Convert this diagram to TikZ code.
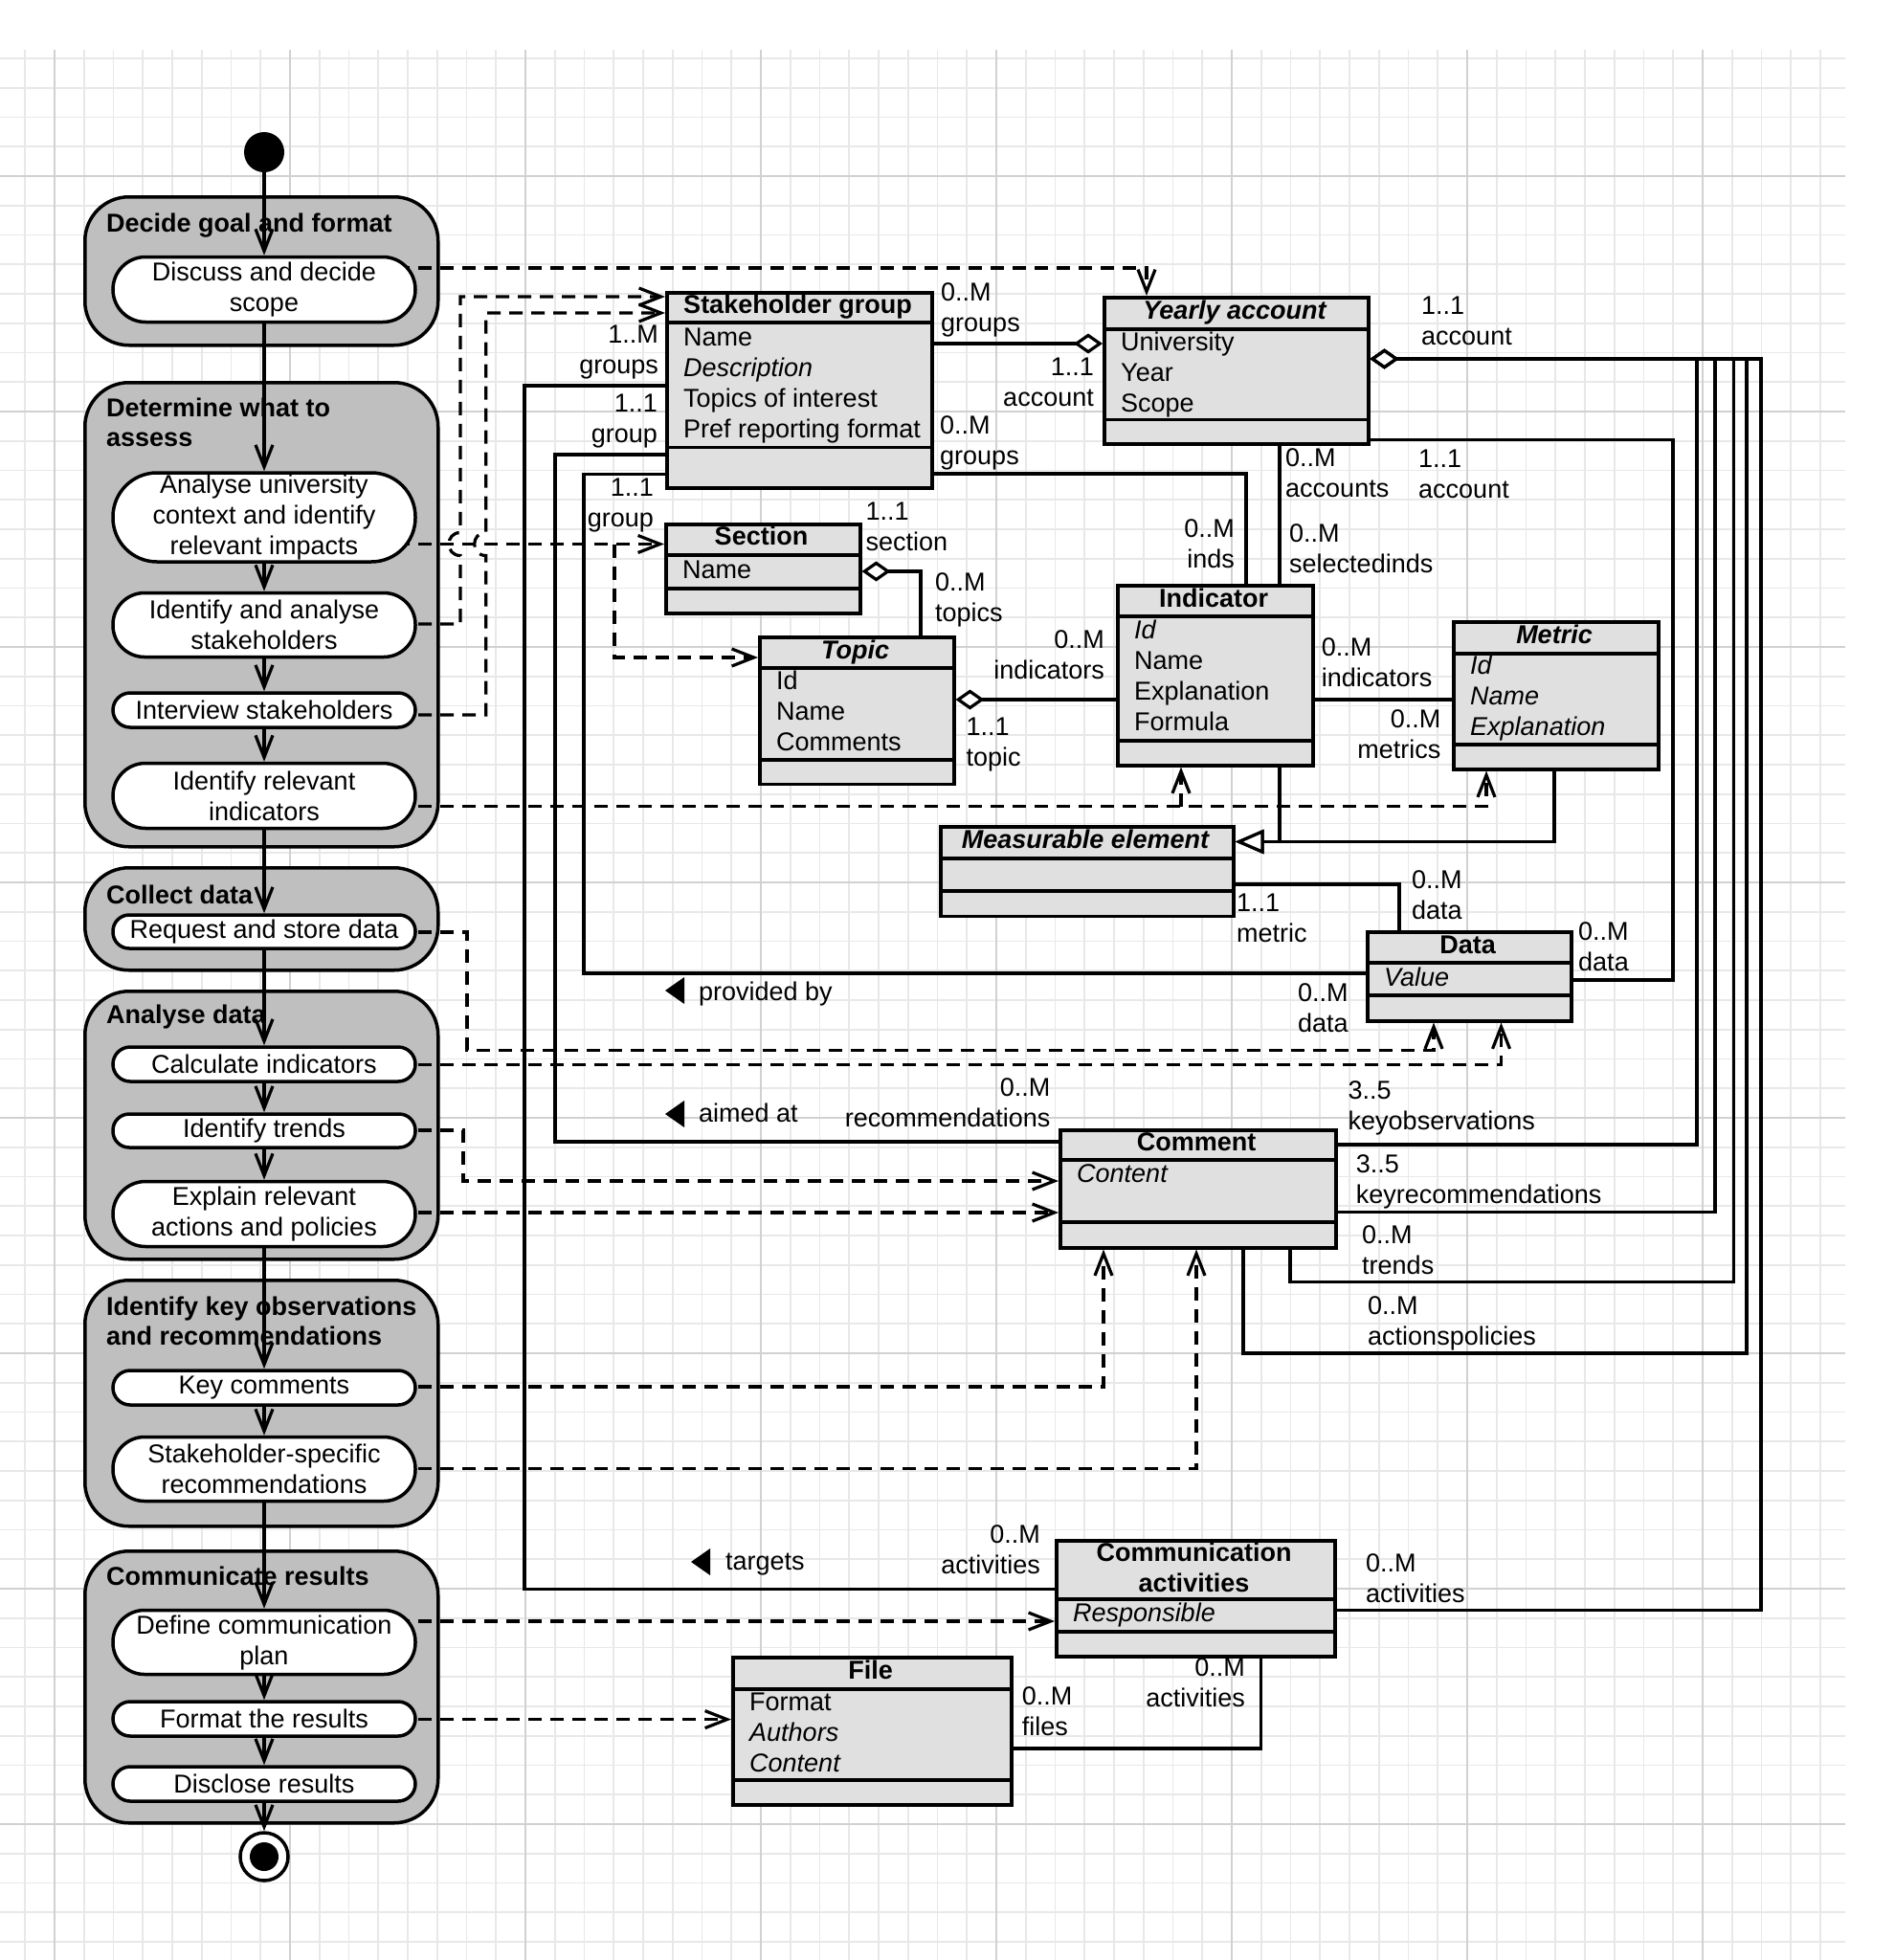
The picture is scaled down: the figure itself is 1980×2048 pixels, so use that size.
\documentclass[tikz,border=0pt]{standalone}
\usepackage{fontspec}
\setmainfont{Liberation Sans}
\usetikzlibrary{arrows.meta}
\pgfdeclarelayer{gridl}
\pgfdeclarelayer{groupl}
\pgfdeclarelayer{connl}
\pgfsetlayers{gridl,groupl,connl,main}
\newcommand\attrlist[3]{\foreach \attrtxt [count=\ai from 0] in {#3} {\node[anchor=base west] at (#1,{#2+32*\ai}) {\attrtxt};}}
\newcommand\mlbl[5]{\node[anchor=#1] at (#2,{#3+8}) {#4};\node[anchor=#1] at (#2,{#3+40}) {#5};}
\begin{document}
\begin{tikzpicture}[x=1pt,y=-1pt,
  every node/.style={font=\fontsize{27}{32}\selectfont, inner sep=0pt},
  ttl/.style={font=\fontsize{27}{32}\selectfont\bfseries},
  ttli/.style={font=\fontsize{27}{32}\selectfont\bfseries\itshape},
  minorgrid/.style={draw=black!9, line width=1.6pt},
  majorgrid/.style={draw=black!18, line width=1.6pt},
  grp/.style={draw=black, line width=3.5pt, fill=black!25, rounded corners=46pt, anchor=north west},
  act/.style={draw=black, line width=3.5pt, fill=white, minimum width=316pt, align=center},
  cls/.style={draw=black, line width=3.5pt, fill=black!12, anchor=north west},
  sepline/.style={line width=3.5pt},
  flowarr/.tip={Straight Barb[length=23pt,width=18pt]},
  ctrl/.style={line width=3.2pt, -flowarr},
  objflow/.style={line width=3.2pt, dash pattern=on 14pt off 9pt, -flowarr},
  assoc/.style={line width=3.2pt},
  agg/.style={line width=3.2pt, -{Diamond[length=30pt,width=21pt,fill=white]}},
  gen/.style={line width=3.2pt, -{Triangle[length=30pt,width=25pt,fill=white]}},
]
\useasboundingbox (0,0) rectangle (1980,2048);

% ---------------- grid ----------------
\begin{pgfonlayer}{gridl}
\fill[white] (0,0) rectangle (1980,2048);
\foreach \i in {-1,...,60} \draw[minorgrid] ({57+30.75*\i},52) -- ({57+30.75*\i},2048);
\foreach \j in {-4,...,60} \draw[minorgrid] (0,{184+30.75*\j}) -- (1928,{184+30.75*\j});
\foreach \k in {0,...,7} {\draw[majorgrid] ({57+246*\k},52) -- ({57+246*\k},2048);
  \draw[majorgrid] (0,{184+246*\k}) -- (1928,{184+246*\k});}
\end{pgfonlayer}

% ---------------- activity groups ----------------
\begin{pgfonlayer}{groupl}
\node[grp, minimum width=369pt, minimum height=155pt] (g1) at (87,204) {};
\node[grp, minimum width=369pt, minimum height=485pt] (g2) at (87,398) {};
\node[grp, minimum width=369pt, minimum height=107pt] (g3) at (87,905) {};
\node[grp, minimum width=369pt, minimum height=280pt] (g4) at (87,1034) {};
\node[grp, minimum width=369pt, minimum height=257pt] (g5) at (87,1336) {};
\node[grp, minimum width=369pt, minimum height=284pt] (g6) at (87,1619) {};
\node[ttl, anchor=base west] (g1t) at (111,242) {Decide goal and format};
\node[ttl, anchor=base west] (g2t) at (111,435) {Determine what to};
\node[ttl, anchor=base west] (g2u) at (111,466) {assess};
\node[ttl, anchor=base west] (g3t) at (111,944) {Collect data};
\node[ttl, anchor=base west] (g4t) at (111,1069) {Analyse data};
\node[ttl, anchor=base west] (g5t) at (111,1374) {Identify key observations};
\node[ttl, anchor=base west] (g5u) at (111,1405) {and recommendations};
\node[ttl, anchor=base west] (g6t) at (111,1656) {Communicate results};
\end{pgfonlayer}

% ---------------- activities ----------------
\node[circle, fill=black, minimum size=42pt] (init) at (276,159) {};
\node[act, minimum height=68pt, rounded corners=34pt] (a1) at (276,302.5) {Discuss and decide\\scope};
\node[act, minimum height=93pt, rounded corners=46pt] (a2) at (276,540.5) {Analyse university\\context and identify\\relevant impacts};
\node[act, minimum height=67pt, rounded corners=33pt] (a3) at (276,653) {Identify and analyse\\stakeholders};
\node[act, minimum height=36pt, rounded corners=18pt] (a4) at (276,742) {Interview stakeholders};
\node[act, minimum height=68pt, rounded corners=34pt] (a5) at (276,831.5) {Identify relevant\\indicators};
\node[act, minimum height=35pt, rounded corners=17pt] (a6) at (276,973.5) {Request and store data};
\node[act, minimum height=36pt, rounded corners=18pt] (a7) at (276,1112) {Calculate indicators};
\node[act, minimum height=35pt, rounded corners=17pt] (a8) at (276,1181.5) {Identify trends};
\node[act, minimum height=68pt, rounded corners=34pt] (a9) at (276,1268.5) {Explain relevant\\actions and policies};
\node[act, minimum height=36pt, rounded corners=18pt] (a10) at (276,1450) {Key comments};
\node[act, minimum height=67pt, rounded corners=33pt] (a11) at (276,1535) {Stakeholder-specific\\recommendations};
\node[act, minimum height=67pt, rounded corners=33pt] (a12) at (276,1716) {Define communication\\plan};
\node[act, minimum height=36pt, rounded corners=18pt] (a13) at (276,1796) {Format the results};
\node[act, minimum height=36pt, rounded corners=18pt] (a14) at (276,1864) {Disclose results};
\node[circle, draw=black, line width=3.5pt, fill=white, minimum size=50pt] (fin) at (276,1940) {};
\node[circle, fill=black, minimum size=30pt] (finin) at (276,1940) {};

% ---------------- classes ----------------
\node[cls, minimum width=277pt, minimum height=204pt] (sg) at (695,304) {};
\draw[sepline] (sg.west |- 0,337) -- (sg.east |- 0,337);
\draw[sepline] (sg.west |- 0,467.5) -- (sg.east |- 0,467.5);
\node[ttl, anchor=base] (sgt) at (833.5,327) {Stakeholder group};
\attrlist{714}{361}{Name,\textit{Description},Topics of interest,Pref reporting format}

\node[cls, minimum width=276pt, minimum height=153pt] (ya) at (1152,309) {};
\draw[sepline] (ya.west |- 0,344) -- (ya.east |- 0,344);
\draw[sepline] (ya.west |- 0,438.5) -- (ya.east |- 0,438.5);
\node[ttli, anchor=base] (yat) at (1290,333) {Yearly account};
\attrlist{1171}{366}{University,Year,Scope}

\node[cls, minimum width=203pt, minimum height=93pt] (sec) at (694,546) {};
\draw[sepline] (sec.west |- 0,580) -- (sec.east |- 0,580);
\draw[sepline] (sec.west |- 0,615) -- (sec.east |- 0,615);
\node[ttl, anchor=base] (sect) at (795.5,569) {Section};
\attrlist{713}{604}{Name}

\node[cls, minimum width=203pt, minimum height=153.5pt] (top) at (792,664) {};
\draw[sepline] (top.west |- 0,698) -- (top.east |- 0,698);
\draw[sepline] (top.west |- 0,794) -- (top.east |- 0,794);
\node[ttli, anchor=base] (topt) at (893.5,688) {Topic};
\attrlist{811}{720}{Id,Name,Comments}

\node[cls, minimum width=204pt, minimum height=188pt] (ind) at (1166,610) {};
\draw[sepline] (ind.west |- 0,644) -- (ind.east |- 0,644);
\draw[sepline] (ind.west |- 0,774) -- (ind.east |- 0,774);
\node[ttl, anchor=base] (indt) at (1268,634) {Indicator};
\attrlist{1185}{667}{\textit{Id},Name,Explanation,Formula}

\node[cls, minimum width=214pt, minimum height=154pt] (met) at (1517,648) {};
\draw[sepline] (met.west |- 0,683) -- (met.east |- 0,683);
\draw[sepline] (met.west |- 0,778) -- (met.east |- 0,778);
\node[ttli, anchor=base] (mett) at (1624,672) {Metric};
\attrlist{1536}{704}{\textit{Id},\textit{Name},\textit{Explanation}}

\node[cls, minimum width=306pt, minimum height=93.6pt] (me) at (981,862) {};
\draw[sepline] (me.west |- 0,897) -- (me.east |- 0,897);
\draw[sepline] (me.west |- 0,931) -- (me.east |- 0,931);
\node[ttli, anchor=base] (met2) at (1134,886) {Measurable element};

\node[cls, minimum width=213pt, minimum height=93pt] (dat) at (1427,972) {};
\draw[sepline] (dat.west |- 0,1006) -- (dat.east |- 0,1006);
\draw[sepline] (dat.west |- 0,1040) -- (dat.east |- 0,1040);
\node[ttl, anchor=base] (datt) at (1533.5,996) {Data};
\attrlist{1446}{1030}{\textit{Value}}

\node[cls, minimum width=288pt, minimum height=123pt] (com) at (1106,1179) {};
\draw[sepline] (com.west |- 0,1212) -- (com.east |- 0,1212);
\draw[sepline] (com.west |- 0,1277) -- (com.east |- 0,1277);
\node[ttl, anchor=base] (comt) at (1250,1202) {Comment};
\attrlist{1125}{1235}{\textit{Content}}

\node[cls, minimum width=291pt, minimum height=121pt] (ca) at (1102,1608) {};
\draw[sepline] (ca.west |- 0,1671) -- (ca.east |- 0,1671);
\draw[sepline] (ca.west |- 0,1705) -- (ca.east |- 0,1705);
\node[ttl, anchor=base] (cat) at (1247.5,1631) {Communication};
\node[ttl, anchor=base] (cau) at (1247.5,1663) {activities};
\attrlist{1121}{1694}{\textit{Responsible}}

\node[cls, minimum width=291pt, minimum height=154pt] (file) at (764,1730) {};
\draw[sepline] (file.west |- 0,1765) -- (file.east |- 0,1765);
\draw[sepline] (file.west |- 0,1860) -- (file.east |- 0,1860);
\node[ttl, anchor=base] (filet) at (909.5,1754) {File};
\attrlist{783}{1787}{Format,\textit{Authors},\textit{Content}}

% ---------------- connectors ----------------
\begin{pgfonlayer}{connl}
% control flow
\draw[ctrl] (init) -- (a1);
\draw[ctrl] (a1) -- (a2);
\draw[ctrl] (a2) -- (a3);
\draw[ctrl] (a3) -- (a4);
\draw[ctrl] (a4) -- (a5);
\draw[ctrl] (a5) -- (a6);
\draw[ctrl] (a6) -- (a7);
\draw[ctrl] (a7) -- (a8);
\draw[ctrl] (a8) -- (a9);
\draw[ctrl] (a9) -- (a10);
\draw[ctrl] (a10) -- (a11);
\draw[ctrl] (a11) -- (a12);
\draw[ctrl] (a12) -- (a13);
\draw[ctrl] (a13) -- (a14);
\draw[ctrl] (a14) -- (fin);

% object flows (dashed)
\draw[objflow] (a1.center |- 0,280) -- (1198,280) -- (ya.north -| 1198,0);
\draw[objflow] (a3.center |- 0,652) -- (481,652) -- (481,580.5)
   .. controls (465,580.5) and (465,556.5) .. (481,556.5) -- (481,310) -- (sg.west |- 0,310);
\draw[objflow] (a4.center |- 0,747) -- (507.7,747) -- (507.7,580.5)
   .. controls (491.7,580.5) and (491.7,556.5) .. (507.7,556.5) -- (507.7,327) -- (sg.west |- 0,327);
\coordinate (br1) at (642,568.5);
\draw[objflow] (a2.center |- 0,568.5) -- (sec.west |- 0,568.5);
\draw[objflow] (br1) -- (642,687) -- (top.west |- 0,687);
\coordinate (br2) at (1234,842.5);
\draw[objflow] (a5.center |- 0,842.5) -- (1553,842.5) -- (met.south -| 1553,0);
\draw[objflow] (br2) -- (ind.south -| br2);
\draw[objflow] (a6.center |- 0,974) -- (488,974) -- (488,1097.5) -- (1498,1097.5) -- (dat.south -| 1498,0);
\draw[objflow] (a7.center |- 0,1112.7) -- (1568.5,1112.7) -- (dat.south -| 1568.5,0);
\draw[objflow] (a8.center |- 0,1181) -- (484,1181) -- (484,1234) -- (com.west |- 0,1234);
\draw[objflow] (a9.center |- 0,1267) -- (com.west |- 0,1267);
\draw[objflow] (a10.center |- 0,1449) -- (1153,1449) -- (com.south -| 1153,0);
\draw[objflow] (a11.center |- 0,1534.5) -- (1250,1534.5) -- (com.south -| 1250,0);
\draw[objflow] (a12.center |- 0,1694) -- (ca.west |- 0,1694);
\draw[objflow] (a13.center |- 0,1796.6) -- (file.west |- 0,1796.6);

% associations
\draw[agg] (sg.east |- 0,359) -- (ya.west |- 0,359);
\draw[assoc] (sg.east |- 0,495) -| (ind.north -| 1302,0);
\draw[assoc] (ya.south -| 1337,0) -- (ind.north -| 1337,0);
\draw[assoc] (ya.east |- 0,459.5) -- (1748,459.5) -- (1748,1024) -- (dat.east |- 0,1024);
\draw[agg] (com.east |- 0,1196) -- (1773,1196) -- (1773,375) -- (ya.east |- 0,375);
\draw[agg] (com.east |- 0,1266.7) -- (1792,1266.7) -- (1792,375) -- (ya.east |- 0,375);
\draw[agg] (com.south -| 1348,0) -- (1348,1339.5) -- (1811.5,1339.5) -- (1811.5,375) -- (ya.east |- 0,375);
\draw[agg] (com.south -| 1299,0) -- (1299,1414) -- (1825,1414) -- (1825,375) -- (ya.east |- 0,375);
\draw[agg] (ca.east |- 0,1682.7) -- (1840,1682.7) -- (1840,375) -- (ya.east |- 0,375);
\draw[assoc] (sg.west |- 0,403) -- (548,403) -- (548,1660.7) -- (ca.west |- 0,1660.7);
\draw[assoc] (sg.west |- 0,475) -- (580,475) -- (580,1193) -- (com.west |- 0,1193);
\draw[assoc] (sg.west |- 0,495.7) -- (610,495.7) -- (610,1017) -- (dat.west |- 0,1017);
\draw[agg] (top.north -| 962,0) -- (962,597) -- (sec.east |- 0,597);
\draw[agg] (ind.west |- 0,731) -- (top.east |- 0,731);
\draw[assoc] (ind.east |- 0,731) -- (met.west |- 0,731);
\draw[gen] (ind.south -| 1337,0) |- (me.east |- 0,879.5);
\draw[gen] (met.south -| 1624,0) |- (me.east |- 0,879.5);
\draw[assoc] (me.east |- 0,924) -- (1462,924) -- (dat.north -| 1462,0);
\draw[assoc] (file.east |- 0,1827) -- (1317.6,1827) -- (ca.south -| 1317.6,0);
\end{pgfonlayer}

% direction markers
\fill (715,1021) -- (695,1035) -- (715,1049) -- cycle;
\node[anchor=base west] (pb) at (730,1045) {provided by};
\fill (715,1150) -- (695,1164) -- (715,1178) -- cycle;
\node[anchor=base west] (am) at (730,1172) {aimed at};
\fill (742,1618) -- (722,1632) -- (742,1646) -- cycle;
\node[anchor=base west] (tg) at (758,1640) {targets};

% multiplicity labels
\mlbl{base west}{983}{306}{0..M}{groups}
\mlbl{base east}{1143}{384}{1..1}{account}
\mlbl{base west}{982}{445}{0..M}{groups}
\mlbl{base east}{1290}{553}{0..M}{inds}
\mlbl{base west}{1343}{479}{0..M}{accounts}
\mlbl{base west}{1347}{558}{0..M}{selectedinds}
\mlbl{base west}{1482}{480}{1..1}{account}
\mlbl{base west}{1485}{320}{1..1}{account}
\mlbl{base west}{1649}{974}{0..M}{data}
\mlbl{base west}{1408.5}{1140}{3..5}{keyobservations}
\mlbl{base west}{1416.7}{1217}{3..5}{keyrecommendations}
\mlbl{base west}{1423}{1291}{0..M}{trends}
\mlbl{base west}{1429}{1365}{0..M}{actionspolicies}
\mlbl{base west}{1427}{1634}{0..M}{activities}
\mlbl{base east}{688}{350}{1..M}{groups}
\mlbl{base east}{1087}{1604}{0..M}{activities}
\mlbl{base east}{687}{422}{1..1}{group}
\mlbl{base east}{1097.6}{1137}{0..M}{recommendations}
\mlbl{base east}{683}{510}{1..1}{group}
\mlbl{base west}{1356}{1038}{0..M}{data}
\mlbl{base west}{904.5}{535}{1..1}{section}
\mlbl{base west}{977}{609}{0..M}{topics}
\mlbl{base east}{1154}{669}{0..M}{indicators}
\mlbl{base west}{1009.5}{760}{1..1}{topic}
\mlbl{base west}{1380.6}{677}{0..M}{indicators}
\mlbl{base east}{1505.6}{752}{0..M}{metrics}
\mlbl{base west}{1292}{944.5}{1..1}{metric}
\mlbl{base west}{1475}{920}{0..M}{data}
\mlbl{base west}{1067.7}{1773}{0..M}{files}
\mlbl{base east}{1301}{1743}{0..M}{activities}
\end{tikzpicture}
\end{document}
